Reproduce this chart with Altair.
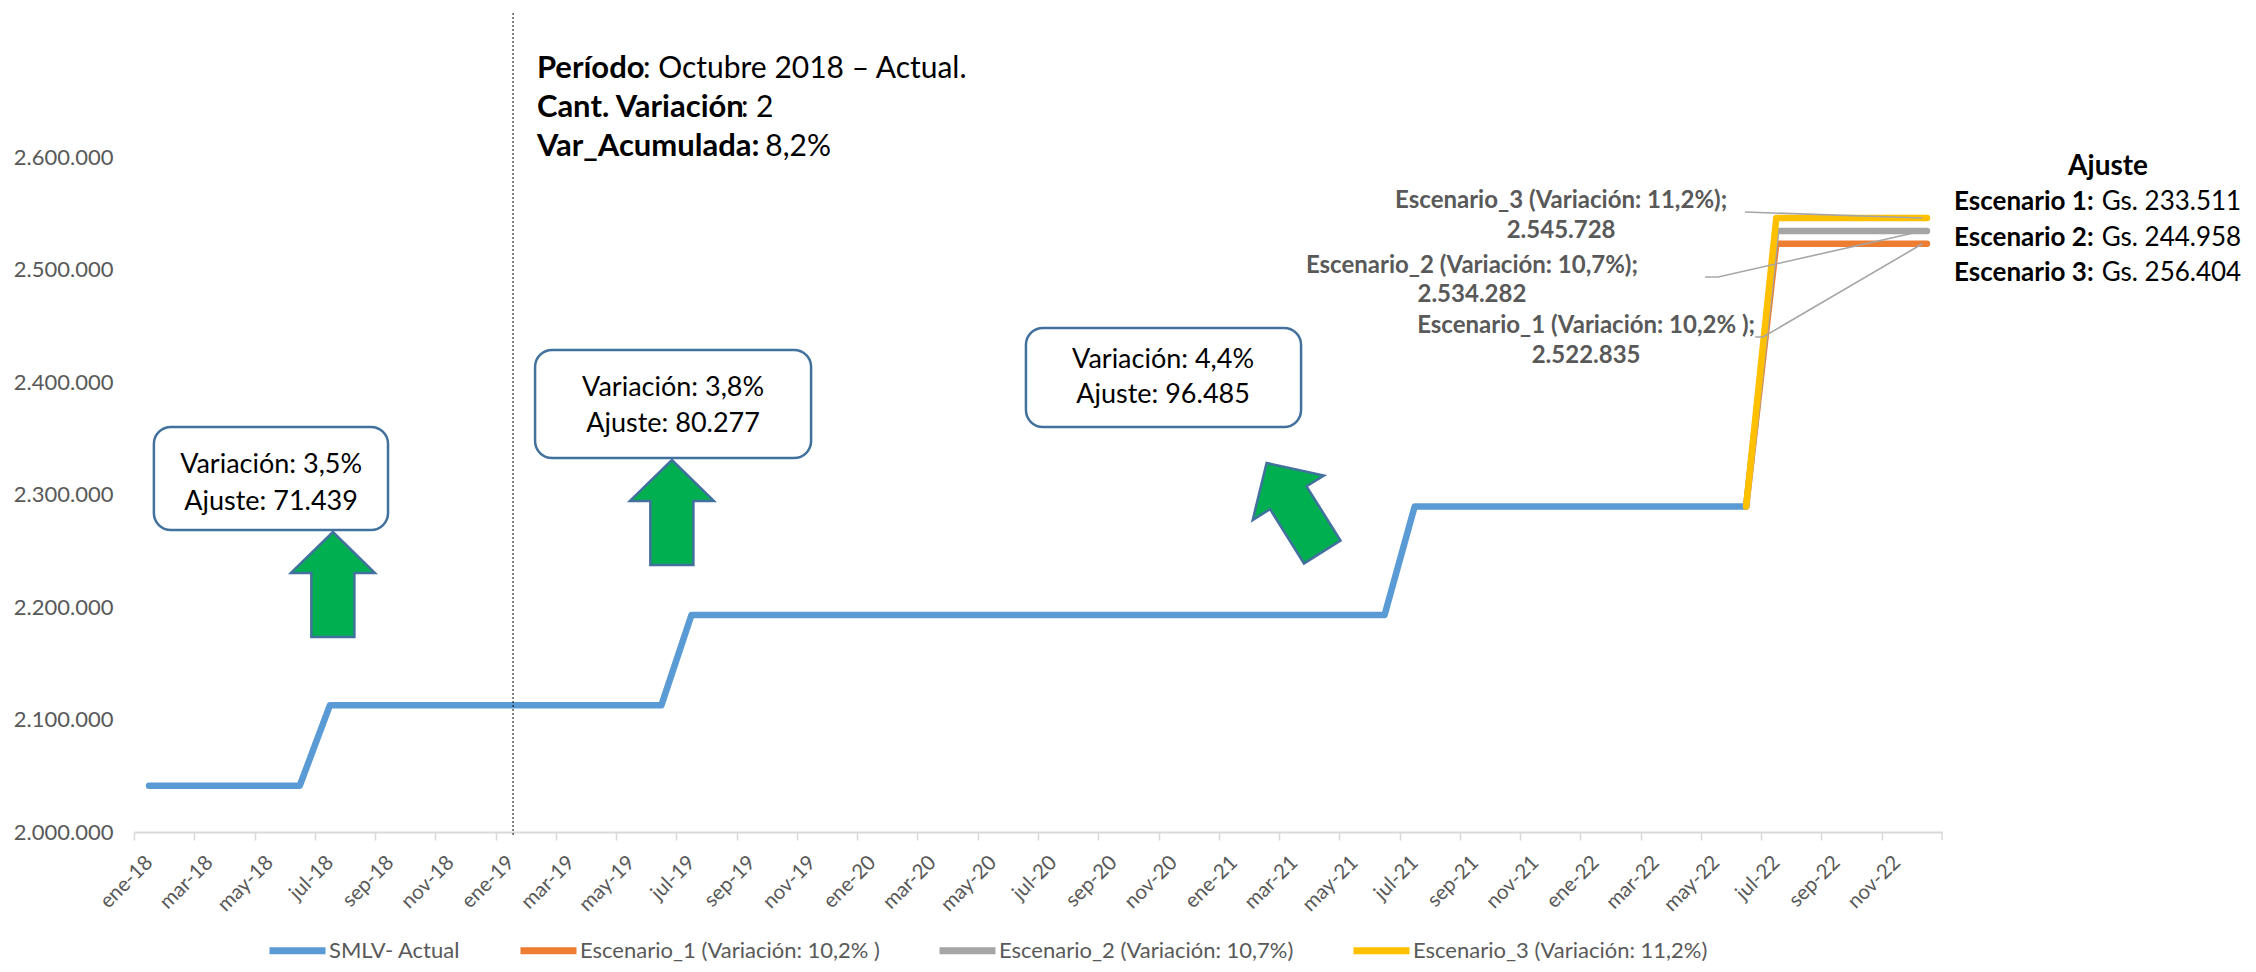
import json
import altair as alt
import pandas as pd

# ---------------- data ----------------
MESES = ["ene", "feb", "mar", "abr", "may", "jun", "jul", "ago", "sep", "oct", "nov", "dic"]
ANIOS = ["18", "19", "20", "21", "22"]
month_labels = [f"{m}-{a}" for a in ANIOS for m in MESES]          # 60 months, ene-18 .. dic-22

# SMLV actual, ene-18 .. jun-22 (54 months)
smlv_values = ([2041123] * 6 + [2112562] * 12 + [2192839] * 24 + [2289324] * 12)

# Scenarios, jun-22 .. dic-22 (7 months, start at last actual value)
esc1_values = [2289324, 2522835, 2522835, 2522835, 2522835, 2522835, 2522835]
esc2_values = [2289324, 2534282, 2534282, 2534282, 2534282, 2534282, 2534282]
esc3_values = [2289324, 2545728, 2545728, 2545728, 2545728, 2545728, 2545728]
ESC_START = 53

SERIES = ["SMLV- Actual", "Escenario_1 (Variación: 10,2% )",
          "Escenario_2 (Variación: 10,7%)", "Escenario_3 (Variación: 11,2%)"]
COLORS = ["#5B9BD5", "#ED7D31", "#A5A5A5", "#FFC000"]

y_ticks = [2000000, 2100000, 2200000, 2300000, 2400000, 2500000, 2600000]

# annotation content (positions in data space: x = month index, y = value)
box_rects = [  # x, x2, y, y2
    (0.16, 7.93, 2360000, 2268444),
    (12.81, 21.97, 2428444, 2332444),
    (29.10, 38.23, 2448000, 2360000),
]
box_texts = [
    (4.05, 2326222, "Variación: 3,5%"), (4.05, 2293333, "Ajuste: 71.439"),
    (17.39, 2394667, "Variación: 3,8%"), (17.39, 2362667, "Ajuste: 80.277"),
    (33.65, 2419556, "Variación: 4,4%"), (33.65, 2388444, "Ajuste: 96.485"),
]
arrows = [  # x, y, angle
    (6.10, 2220000, 0),
    (17.35, 2284000, 0),
    (38.01, 2288444, 328),
]
ARROW_PATH = "M0,-1 L0.8,-0.22 L0.41,-0.22 L0.41,1 L-0.41,1 L-0.41,-0.22 L-0.8,-0.22 Z"

periodo_bold = [(12.87, 2678222, "Período"), (12.87, 2643556, "Cant. Variación"),
                (12.87, 2608889, "Var_Acumulada:")]
periodo_reg = [(16.39, 2678222, ": Octubre 2018 – Actual."), (19.64, 2643556, ": 2"),
               (20.45, 2608889, "8,2%")]
divider = (12.08, 2728000, 1996444)

data_labels = [
    (46.86, 2561000, "Escenario_3 (Variación: 11,2%);"), (46.86, 2534500, "2.545.728"),
    (43.90, 2503300, "Escenario_2 (Variación: 10,7%);"), (43.90, 2477500, "2.534.282"),
    (47.69, 2450000, "Escenario_1 (Variación: 10,2% );"), (47.69, 2423300, "2.522.835"),
]
leaders = [  # id, order, x, y
    ("l3", 0, 52.96, 2551111), ("l3", 1, 58.85, 2545728),
    ("l2", 0, 51.64, 2493333), ("l2", 1, 52.07, 2493333), ("l2", 2, 58.85, 2534282),
    ("l1", 0, 53.30, 2440000), ("l1", 1, 53.56, 2440000), ("l1", 2, 58.85, 2522835),
]
ajuste_title = (65.01, 2591111, "Ajuste")
ajuste_bold = [(59.90, 2560000, "Escenario 1:"), (59.90, 2528000, "Escenario 2:"),
               (59.90, 2496889, "Escenario 3:")]
ajuste_reg = [(64.80, 2560000, "Gs. 233.511"), (64.80, 2528000, "Gs. 244.958"),
              (64.80, 2496889, "Gs. 256.404")]

# ---------------- build tables ----------------
rows = [{"x": i, "y": v, "serie": SERIES[0]} for i, v in enumerate(smlv_values)]
for name, vals in zip(SERIES[1:], [esc1_values, esc2_values, esc3_values]):
    rows += [{"x": ESC_START + k, "y": v, "serie": name} for k, v in enumerate(vals)]
lines_df = pd.DataFrame(rows)

W, H = 1808, 675
FONT = "Lato"
GRAY = "#595959"
HALF_BAND = W / 60 / 2

xscale = alt.Scale(domain=[-0.5, 59.5], nice=False, zero=False)
yscale = alt.Scale(domain=[2000000, 2600000], nice=False, zero=False)

x_axis = alt.Axis(
    values=list(range(0, 60, 2)),
    labelExpr=f"{json.dumps(month_labels)}[datum.value]",
    labelAngle=315, labelAlign="right", labelBaseline="middle",
    labelPadding=19, labelFont=FONT, labelFontSize=20.5, labelColor=GRAY,
    labelOverlap=False, labelFlush=False, labelOffset=HALF_BAND,
    tickOffset=-HALF_BAND, tickSize=8, tickWidth=1.5, tickColor="#D9D9D9",
    domainColor="#D9D9D9", domainWidth=2, grid=False, title=None,
)
y_axis = alt.Axis(
    values=y_ticks,
    labelExpr="replace(format(datum.value, ','), regexp(',', 'g'), '.')",
    domain=False, ticks=False, grid=False, title=None,
    labelPadding=21, labelFont=FONT, labelFontSize=22, labelColor=GRAY,
)

# same axis definition in every layer so that the merged axis is kept
X = alt.X("x:Q", scale=xscale, axis=x_axis)
Y = alt.Y("y:Q", scale=yscale, axis=y_axis)

legend = alt.Legend(
    orient="none", legendX=132, legendY=762, direction="horizontal", title=None,
    symbolType="stroke", symbolSize=3136, symbolStrokeWidth=7,
    labelFont=FONT, labelFontSize=22, labelColor=GRAY, labelOffset=0, labelLimit=0,
    columnPadding=45, padding=0,
)
color = alt.Color("serie:N", scale=alt.Scale(domain=SERIES, range=COLORS), legend=legend)

layers = []
base_lines = alt.Chart(lines_df)
for name in SERIES:
    layers.append(
        base_lines.transform_filter(alt.datum.serie == name)
        .mark_line(strokeWidth=6.5, strokeCap="round", strokeJoin="round")
        .encode(x=X, y=Y, color=color)
    )

# final tick at right end of the category axis
layers.append(
    alt.Chart(pd.DataFrame({"x": [59.5]})).mark_rule(color="#D9D9D9", strokeWidth=1.5)
    .encode(x=X, y=alt.value(H), y2=alt.value(H + 8))
)

# leader lines
lead_df = pd.DataFrame(leaders, columns=["lid", "ord", "x", "y"])
layers.append(
    alt.Chart(lead_df).mark_line(color="#A6A6A6", strokeWidth=1.6)
    .encode(x=X, y=Y, detail="lid:N", order="ord:Q")
)

# dotted divider
layers.append(
    alt.Chart(pd.DataFrame([{"x": divider[0], "y": divider[1], "y2": divider[2]}]))
    .mark_rule(color="#000000", strokeWidth=1, strokeDash=[2, 2])
    .encode(x=X, y=Y, y2="y2:Q")
)

# rounded boxes
box_df = pd.DataFrame(box_rects, columns=["x", "x2", "y", "y2"])
layers.append(
    alt.Chart(box_df).mark_rect(fill="white", stroke="#41719C", strokeWidth=2.5, cornerRadius=17)
    .encode(x=X, x2="x2:Q", y=Y, y2="y2:Q")
)

# arrows
arr_df = pd.DataFrame(arrows, columns=["x", "y", "ang"])
layers.append(
    alt.Chart(arr_df).mark_point(shape=ARROW_PATH, filled=True, fill="#00B050", stroke="#41719C",
                                 strokeWidth=2.5, opacity=1, fillOpacity=1, size=105 * 105)
    .encode(x=X, y=Y, angle=alt.Angle("ang:Q", scale=None))
)


def text_layer(items, **kw):
    df = pd.DataFrame(items, columns=["x", "y", "t"])
    return alt.Chart(df).mark_text(font=FONT, baseline="middle", **kw).encode(x=X, y=Y, text="t:N")


layers.append(text_layer(box_texts, fontSize=27, color="#000000", align="center"))
layers.append(text_layer(periodo_bold, fontSize=31, fontWeight="bold", color="#000000", align="left"))
layers.append(text_layer(periodo_reg, fontSize=30, color="#000000", align="left"))
layers.append(text_layer(data_labels, fontSize=24, fontWeight="bold", color=GRAY, align="center"))
layers.append(text_layer([ajuste_title], fontSize=28, fontWeight="bold", color="#000000", align="center"))
layers.append(text_layer(ajuste_bold, fontSize=26, fontWeight="bold", color="#000000", align="left"))
layers.append(text_layer(ajuste_reg, fontSize=26, color="#000000", align="left"))

chart = (
    alt.layer(*layers)
    .properties(
        width=W, height=H,
        padding={"left": 126, "top": 149, "right": 306, "bottom": 132},
        autosize=alt.AutoSizeParams(type="none"),
        background="white",
    )
    .configure_view(stroke=None)
)

chart.save("out.html", embed_options={"renderer": "svg", "actions": False})
